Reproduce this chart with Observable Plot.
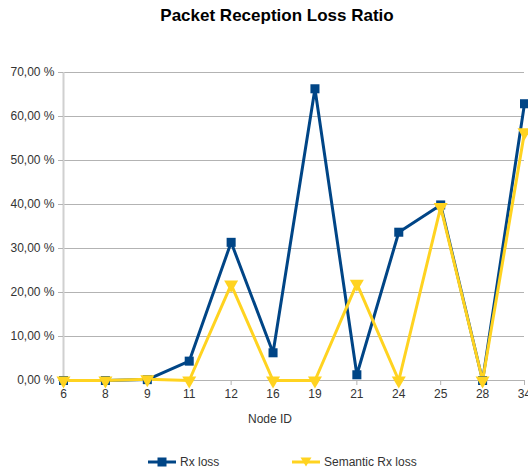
<!DOCTYPE html>
<html>
<head>
<meta charset="utf-8">
<script src="https://cdn.jsdelivr.net/npm/d3@7"></script>
<script src="https://cdn.jsdelivr.net/npm/@observablehq/plot@0.6"></script>
<style>
  html, body { margin: 0; padding: 0; background: #fff; }
  body { width: 528px; height: 470px; overflow: hidden; font-family: "Liberation Sans", Arial, sans-serif; }
  #title { height: 40px; box-sizing: border-box; padding-top: 6px; padding-left: 26px; text-align: center; font-weight: bold; font-size: 17px; color: #000; }
  #legend { height: 30px; position: relative; font-size: 12px; color: #333; }
  .item { position: absolute; top: 15px; display: flex; align-items: center; }
  .item svg { margin-right: 4px; }
</style>
</head>
<body>
<div id="title">Packet Reception Loss Ratio</div>
<div id="chart"></div>
<div id="legend">
  <div class="item" style="left:148px"><svg width="28" height="12"><line x1="0" y1="6" x2="28" y2="6" stroke="#004586" stroke-width="3"/><rect x="9.5" y="1.5" width="9" height="9" fill="#004586"/></svg><span>Rx loss</span></div>
  <div class="item" style="left:292px"><svg width="28" height="12"><line x1="0" y1="6" x2="28" y2="6" stroke="#ffd320" stroke-width="3"/><path d="M8.5,1.5 L19.5,1.5 L14,10.5 Z" fill="#ffd320"/></svg><span>Semantic Rx loss</span></div>
</div>
<script>
const nodes = ["6", "8", "9", "11", "12", "16", "19", "21", "24", "25", "28", "34"];
const rxLoss = [0, 0, 0.2, 4.4, 31.4, 6.3, 66.3, 1.3, 33.7, 39.9, 0, 62.9];
const semanticRxLoss = [0, 0, 0.3, 0, 21.8, 0, 0, 22.0, 0, 39.4, 0, 56.4];
const yTicks = [0, 10, 20, 30, 40, 50, 60, 70];
const seriesNames = ["Rx loss", "Semantic Rx loss"];

const rows = [];
nodes.forEach((n, i) => {
  rows.push({node: n, value: rxLoss[i], series: seriesNames[0]});
  rows.push({node: n, value: semanticRxLoss[i], series: seriesNames[1]});
});
const rx = rows.filter(d => d.series === seriesNames[0]);
const sem = rows.filter(d => d.series === seriesNames[1]);
const fmt = d => d.toFixed(2).replace(".", ",") + " %";

const chart = Plot.plot({
  width: 528,
  height: 400,
  marginLeft: 63,
  marginRight: 4,
  marginTop: 32,
  marginBottom: 60,
  style: {fontFamily: "Liberation Sans, Arial, sans-serif", fontSize: "12px", color: "#333", overflow: "visible"},
  x: {type: "point", domain: nodes, padding: 0, round: false, label: null},
  y: {domain: [0, 70], label: null},
  marks: [
    Plot.gridY(yTicks, {stroke: "#b3b3b3", strokeOpacity: 1, strokeWidth: 1}),
    Plot.ruleX([nodes[0]], {stroke: "#d0d0d0", strokeWidth: 2}),
    Plot.axisY({ticks: yTicks, tickFormat: fmt, tickSize: 5, tickPadding: 4, stroke: "#b3b3b3", fill: "#333", fontSize: 12, label: null}),
    Plot.axisX({tickSize: 5, tickPadding: 4, stroke: "#b3b3b3", fill: "#333", fontSize: 12, label: null}),
    Plot.text(["Node ID"], {frameAnchor: "bottom", dy: 42, dx: -24, fill: "#333", fontSize: 12}),
    Plot.line(rx, {x: "node", y: "value", stroke: "#004586", strokeWidth: 3}),
    Plot.line(sem, {x: "node", y: "value", stroke: "#ffd320", strokeWidth: 3}),
    Plot.dot(rx, {x: "node", y: "value", symbol: "square", r: 5.1, fill: "#004586", stroke: null}),
    Plot.dot(sem, {x: "node", y: "value", symbol: "triangle", rotate: 180, r: 5.2, fill: "#ffd320", stroke: null})
  ]
});
document.getElementById("chart").appendChild(chart);
</script>
</body>
</html>
